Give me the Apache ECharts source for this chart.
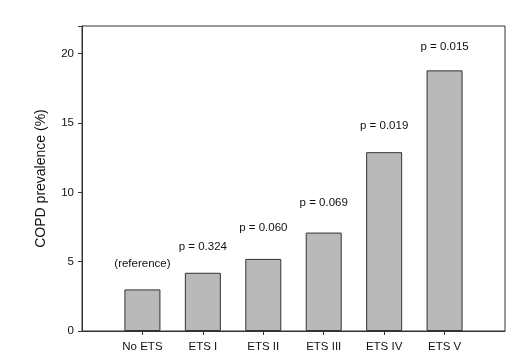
<!DOCTYPE html>
<html><head><meta charset="utf-8">
<script src="https://cdn.jsdelivr.net/npm/echarts@6/dist/echarts.min.js"></script>
<style>html,body{margin:0;padding:0;background:#fff}#c{width:526px;height:362px}</style>
</head><body><div id="c"></div>
<script>
const categories = ['No ETS', 'ETS I', 'ETS II', 'ETS III', 'ETS IV', 'ETS V'];
const prevalence = [3.0, 4.2, 5.2, 7.1, 12.9, 18.8];
const pLabels = ['(reference)', 'p = 0.324', 'p = 0.060', 'p = 0.069', 'p = 0.019', 'p = 0.015'];
const yTicks = [0, 5, 10, 15, 20];
const labelGaps = [20, 20, 25, 24, 20, 18];

const axisCats = [' '].concat(categories, ['  ']);
const barData = [null].concat(prevalence.map((v, i) => ({ value: v, label: { formatter: pLabels[i], distance: labelGaps[i] } })), [null]);
const font = 'Liberation Sans, Arial, sans-serif';

const chart = echarts.init(document.getElementById('c'));
chart.setOption({
  animation: false,
  backgroundColor: '#fff',
  grid: { left: 82, top: 26, right: 21, bottom: 31, show: true, borderColor: '#333', borderWidth: 1, containLabel: false },
  xAxis: {
    type: 'category', data: axisCats, boundaryGap: false,
    axisLine: { lineStyle: { color: '#333', width: 1 } },
    axisTick: { length: 4, lineStyle: { color: '#333' }, interval: (i, v) => v.trim() !== '' },
    axisLabel: { color: '#111', fontFamily: font, fontSize: 11.5, margin: 10, interval: 0 },
    splitLine: { show: false }
  },
  yAxis: {
    type: 'value', min: 0, max: 22, interval: 5,
    name: 'COPD prevalence (%)', nameLocation: 'middle', nameGap: 34,
    nameTextStyle: { color: '#111', fontFamily: font, fontSize: 14 },
    axisLine: { show: true, lineStyle: { color: '#333', width: 1 } },
    axisTick: { show: true, length: 4, lineStyle: { color: '#333' } },
    axisLabel: { color: '#111', fontFamily: font, fontSize: 11.5, margin: 8,
      formatter: v => yTicks.indexOf(v) >= 0 ? String(v) : '' },
    splitLine: { show: false }
  },
  series: [{
    type: 'bar', data: barData, barWidth: 36,
    itemStyle: { color: '#b9b9b9', borderColor: '#333', borderWidth: 1 },
    label: { show: true, position: 'top', distance: 20, color: '#111', fontFamily: font, fontSize: 11.5 }
  }]
});
</script></body></html>
